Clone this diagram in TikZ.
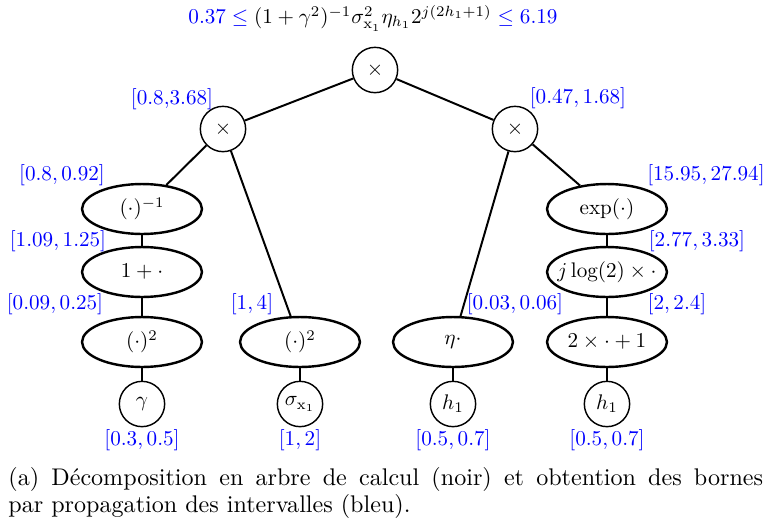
\documentclass[tikz,border=0pt]{standalone}
\usepackage{fontspec}
\usepackage{graphicx}
\usetikzlibrary{shapes.geometric}
\newcommand{\nt}[1]{\scalebox{0.96}{#1}}
\begin{document}
\begin{tikzpicture}[x=0.4545pt,y=-0.4545pt,
  opc/.style={circle, draw, line width=0.65pt, minimum size=20.6pt, inner sep=0pt},
  ope/.style={ellipse, draw, line width=1.1pt, minimum width=54.5pt, minimum height=22.7pt, inner sep=0pt},
  edge/.style={line width=0.9pt},
  bnd/.style={text=blue, inner sep=0pt},
  captext/.style={anchor=base west, inner sep=0pt, font=\fontsize{10.95}{13.6}\selectfont}]
\useasboundingbox (0,0) rectangle (766,524);
% nodes
\node[opc] (t) at (375,70) {\nt{$\times$}};
\node[opc] (l) at (223,129) {\nt{$\times$}};
\node[opc] (r) at (515,129) {\nt{$\times$}};
\node[ope] (inv) at (142,209) {\nt{$(\cdot)^{-1}$}};
\node[ope] (onep) at (142,272) {\nt{$1+\cdot$}};
\node[ope] (sqa) at (142,342) {\nt{$(\cdot)^2$}};
\node[opc] (gam) at (142,404) {\nt{$\gamma$}};
\node[ope] (sqb) at (300,342) {\nt{$(\cdot)^2$}};
\node[opc] (sig) at (300,404) {\nt{$\sigma_{\mathrm{x}_1}$}};
\node[ope] (eta) at (453,342) {\nt{$\eta\cdot$}};
\node[opc] (ha) at (453,404) {\nt{$h_1$}};
\node[ope] (ex) at (607,209) {\nt{$\exp(\cdot)$}};
\node[ope, inner xsep=-3.6pt] (jl) at (607,272) {\nt{$j\log(2)\times\cdot$}};
\node[ope] (tw) at (607,342) {\nt{$2\times\cdot+1$}};
\node[opc] (hb) at (607,404) {\nt{$h_1$}};
% edges
\draw[edge] (t) -- (l);
\draw[edge] (t) -- (r);
\draw[edge] (l) -- (inv);
\draw[edge] (l) -- (sqb);
\draw[edge] (inv) -- (onep);
\draw[edge] (onep) -- (sqa);
\draw[edge] (sqa) -- (gam);
\draw[edge] (sqb) -- (sig);
\draw[edge] (r) -- (eta);
\draw[edge] (r) -- (ex);
\draw[edge] (eta) -- (ha);
\draw[edge] (ex) -- (jl);
\draw[edge] (jl) -- (tw);
\draw[edge] (tw) -- (hb);
% bounds
\node[inner sep=0pt] (top) at (373,18) {\nt{$\textcolor{blue}{0.37 \leq{}} (1+\gamma^2)^{-1}\sigma_{\mathrm{x}_1}^2\eta_{h_1}2^{j(2h_1+1)} \textcolor{blue}{{}\leq 6.19}$}};
\node[bnd] (bl) at (172,99) {\nt{$[0.8{,}3.68]$}};
\node[bnd] (br) at (578,98) {\nt{$[0.47, 1.68]$}};
\node[bnd] (binv) at (62,175) {\nt{$[0.8, 0.92]$}};
\node[bnd] (bex) at (706,175) {\nt{$[15.95, 27.94]$}};
\node[bnd] (bonep) at (58,241) {\nt{$[1.09, 1.25]$}};
\node[bnd] (bjl) at (697,241) {\nt{$[2.77, 3.33]$}};
\node[bnd] (bsqa) at (55,304) {\nt{$[0.09, 0.25]$}};
\node[bnd] (bsqb) at (252,304) {\nt{$[1, 4]$}};
\node[bnd] (beta) at (515,304) {\nt{$[0.03, 0.06]$}};
\node[bnd] (btw) at (677,304) {\nt{$[2, 2.4]$}};
\node[bnd] (bgam) at (142,440) {\nt{$[0.3, 0.5]$}};
\node[bnd] (bsig) at (300,440) {\nt{$[1, 2]$}};
\node[bnd] (bha) at (453,440) {\nt{$[0.5, 0.7]$}};
\node[bnd] (bhb) at (607,440) {\nt{$[0.5, 0.7]$}};
% caption
\node[captext] (cap1) at (8,485) {\makebox[343pt][s]{(a) Décomposition en arbre de calcul (noir) et obtention des bornes}};
\node[captext] (cap2) at (8,512) {par propagation des intervalles (bleu).};
\end{tikzpicture}
\end{document}
